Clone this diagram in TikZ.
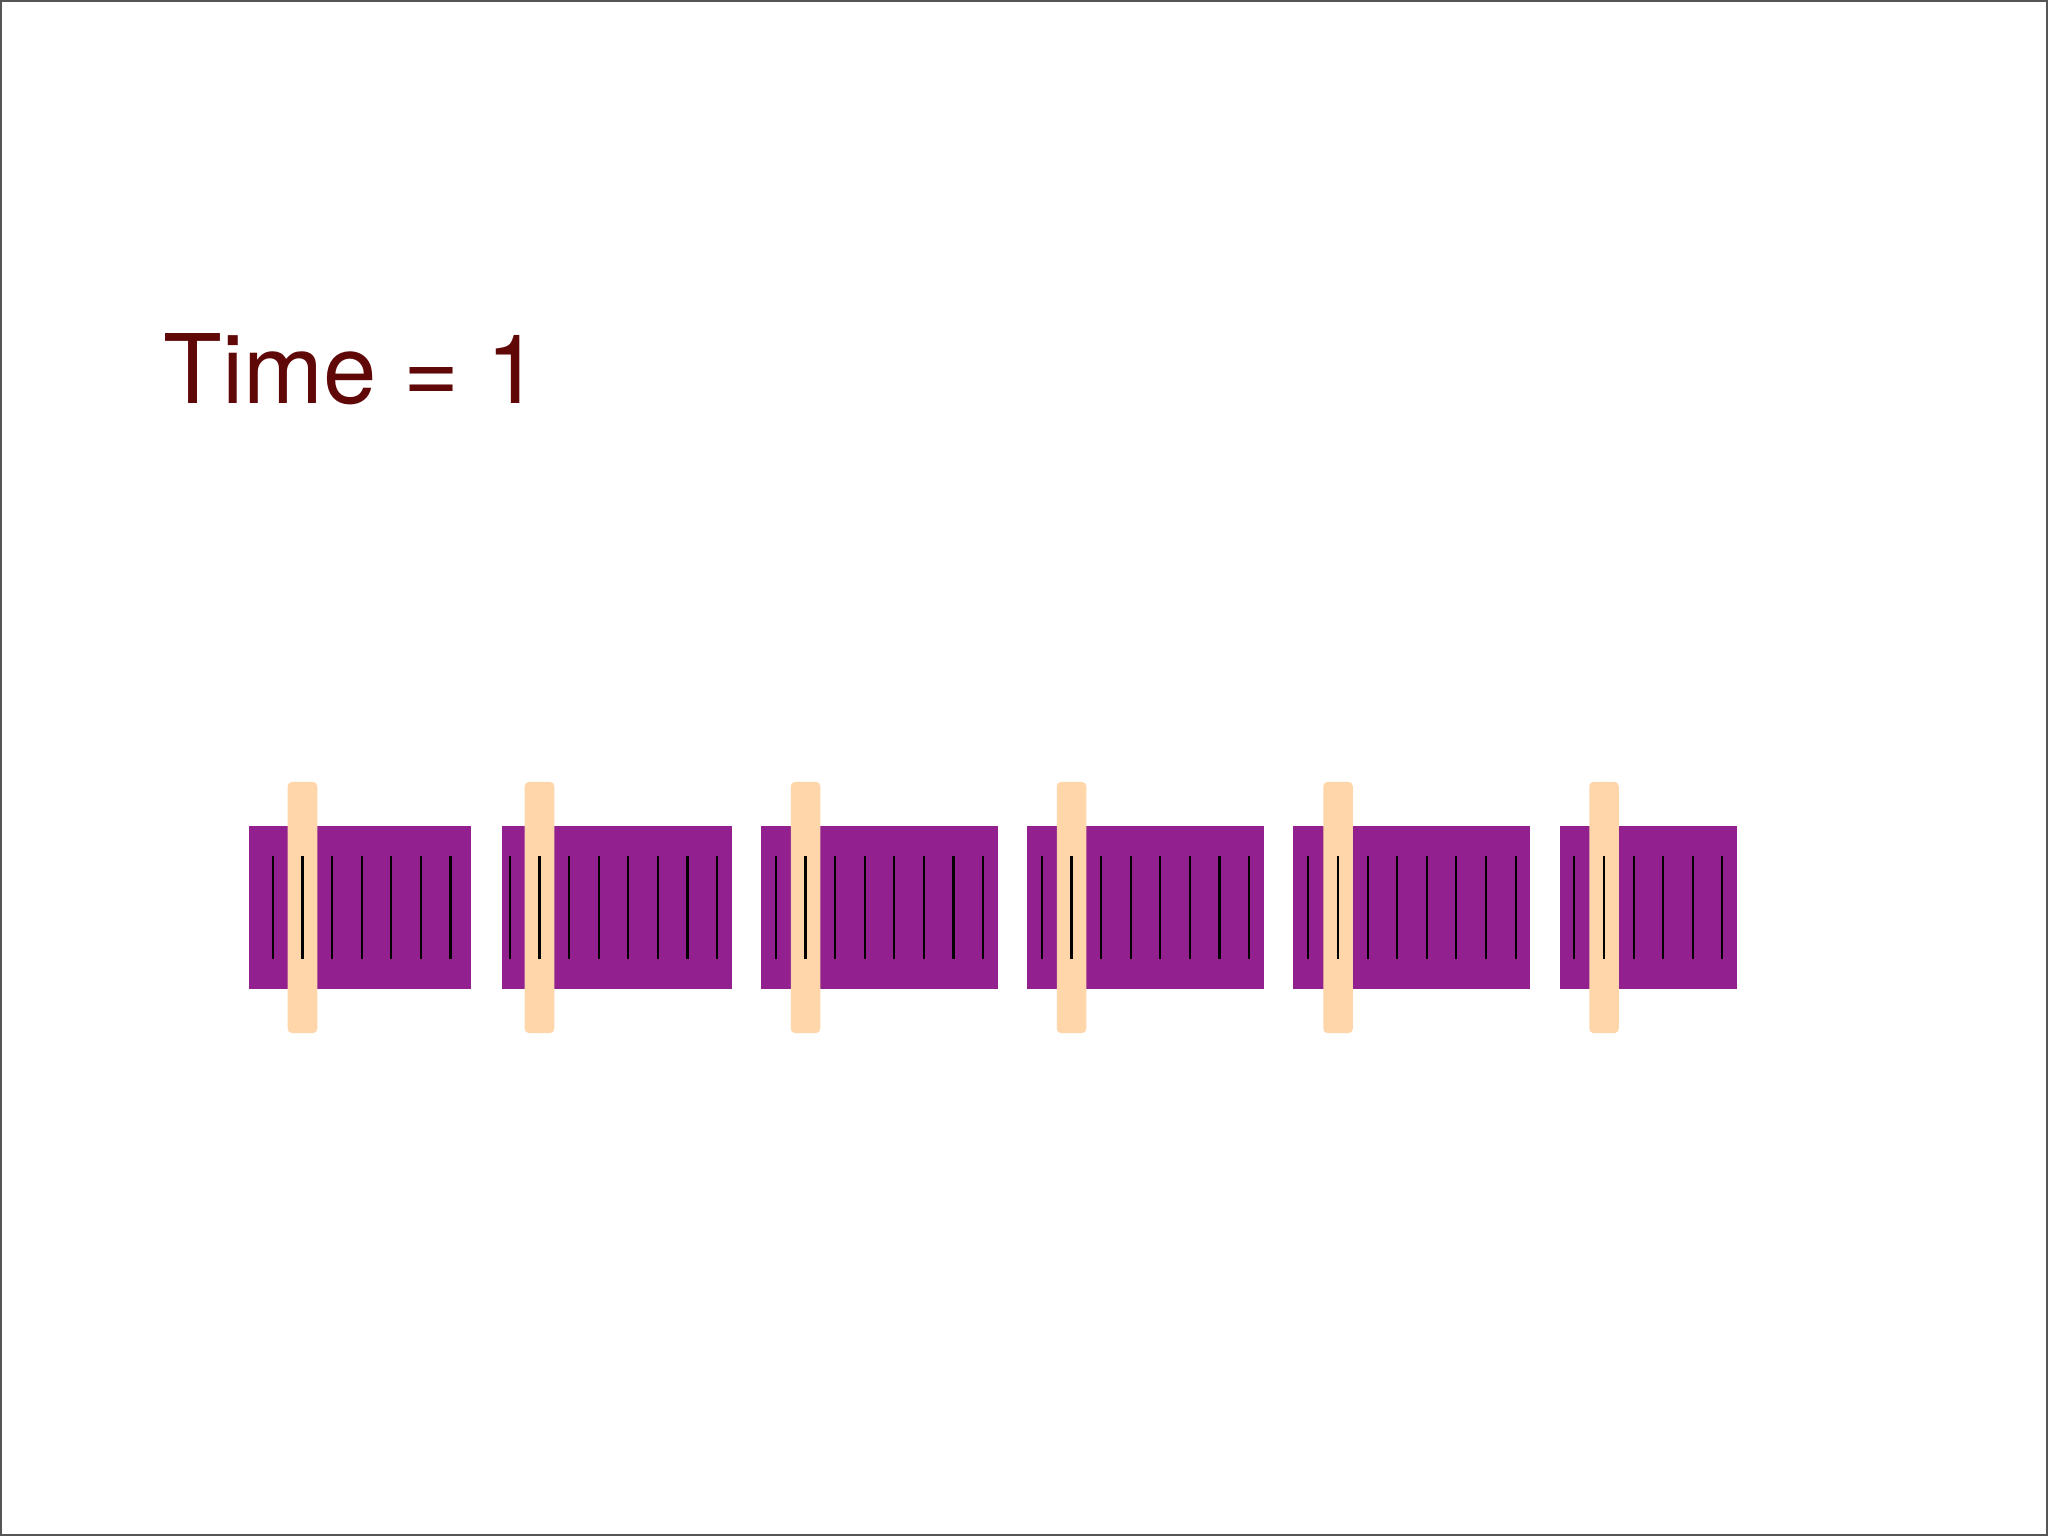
\documentclass[tikz,border=0pt]{standalone}
\usepackage{fontspec}
\setmainfont{TeX Gyre Heros}
\usepackage{tikz}
\usetikzlibrary{calc, positioning}
\definecolor{blockpurple}{RGB}{146,32,143}
\definecolor{strippeach}{RGB}{255,214,170}
\definecolor{timered}{RGB}{96,8,8}
\definecolor{framegray}{RGB}{85,85,85}

\begin{document}
\begin{tikzpicture}[x=0.01cm,y=-0.01cm]
\tikzstyle{block}=[rectangle,fill=blockpurple,inner sep=0pt,minimum height=1.63cm]
\tikzstyle{strip}=[rectangle,fill=strippeach,rounded corners=1.2pt,inner sep=0pt,minimum width=0.295cm,minimum height=2.51cm]
\tikzstyle{tick}=[black,line width=0.6pt]
\useasboundingbox (0,0) rectangle (2048,1536);
\fill[white] (0,0) rectangle (2048,1536);
\draw[framegray,line width=0.6pt] (1,1) rectangle (2047,1535);
\node[anchor=base west,inner sep=0pt,text=timered,font=\fontsize{27.3}{32}\selectfont] (T) at (163,403) {Time = 1};
% the six blocks
\node[block,minimum width=2.22cm] (B_1) at (360,907.5) {};
\node[block,minimum width=2.30cm] (B_2) at (617,907.5) {};
\node[block,minimum width=2.37cm] (B_3) at (879.5,907.5) {};
\node[block,minimum width=2.37cm] (B_4) at (1145.5,907.5) {};
\node[block,minimum width=2.37cm] (B_5) at (1411.5,907.5) {};
\node[block,minimum width=1.77cm] (B_6) at (1648.5,907.5) {};
% the strips across them
\node[strip] (S_1) at (302.5,907.5) {};
\node[strip] (S_2) at (539.5,907.5) {};
\node[strip] (S_3) at (805.5,907.5) {};
\node[strip] (S_4) at (1071.5,907.5) {};
\node[strip] (S_5) at (1338,907.5) {};
\node[strip] (S_6) at (1604,907.5) {};
% ticks
\foreach \i in {-1,...,5} \draw[tick] ($(S_1)+(\i*29.6,-51.5)$) -- ++(0,103);
\foreach \i in {-1,...,6} \draw[tick] ($(S_2)+(\i*29.6,-51.5)$) -- ++(0,103);
\foreach \i in {-1,...,6} \draw[tick] ($(S_3)+(\i*29.6,-51.5)$) -- ++(0,103);
\foreach \i in {-1,...,6} \draw[tick] ($(S_4)+(\i*29.6,-51.5)$) -- ++(0,103);
\foreach \i in {-1,...,6} \draw[tick] ($(S_5)+(\i*29.6,-51.5)$) -- ++(0,103);
\foreach \i in {-1,...,4} \draw[tick] ($(S_6)+(\i*29.6,-51.5)$) -- ++(0,103);
\end{tikzpicture}
\end{document}
